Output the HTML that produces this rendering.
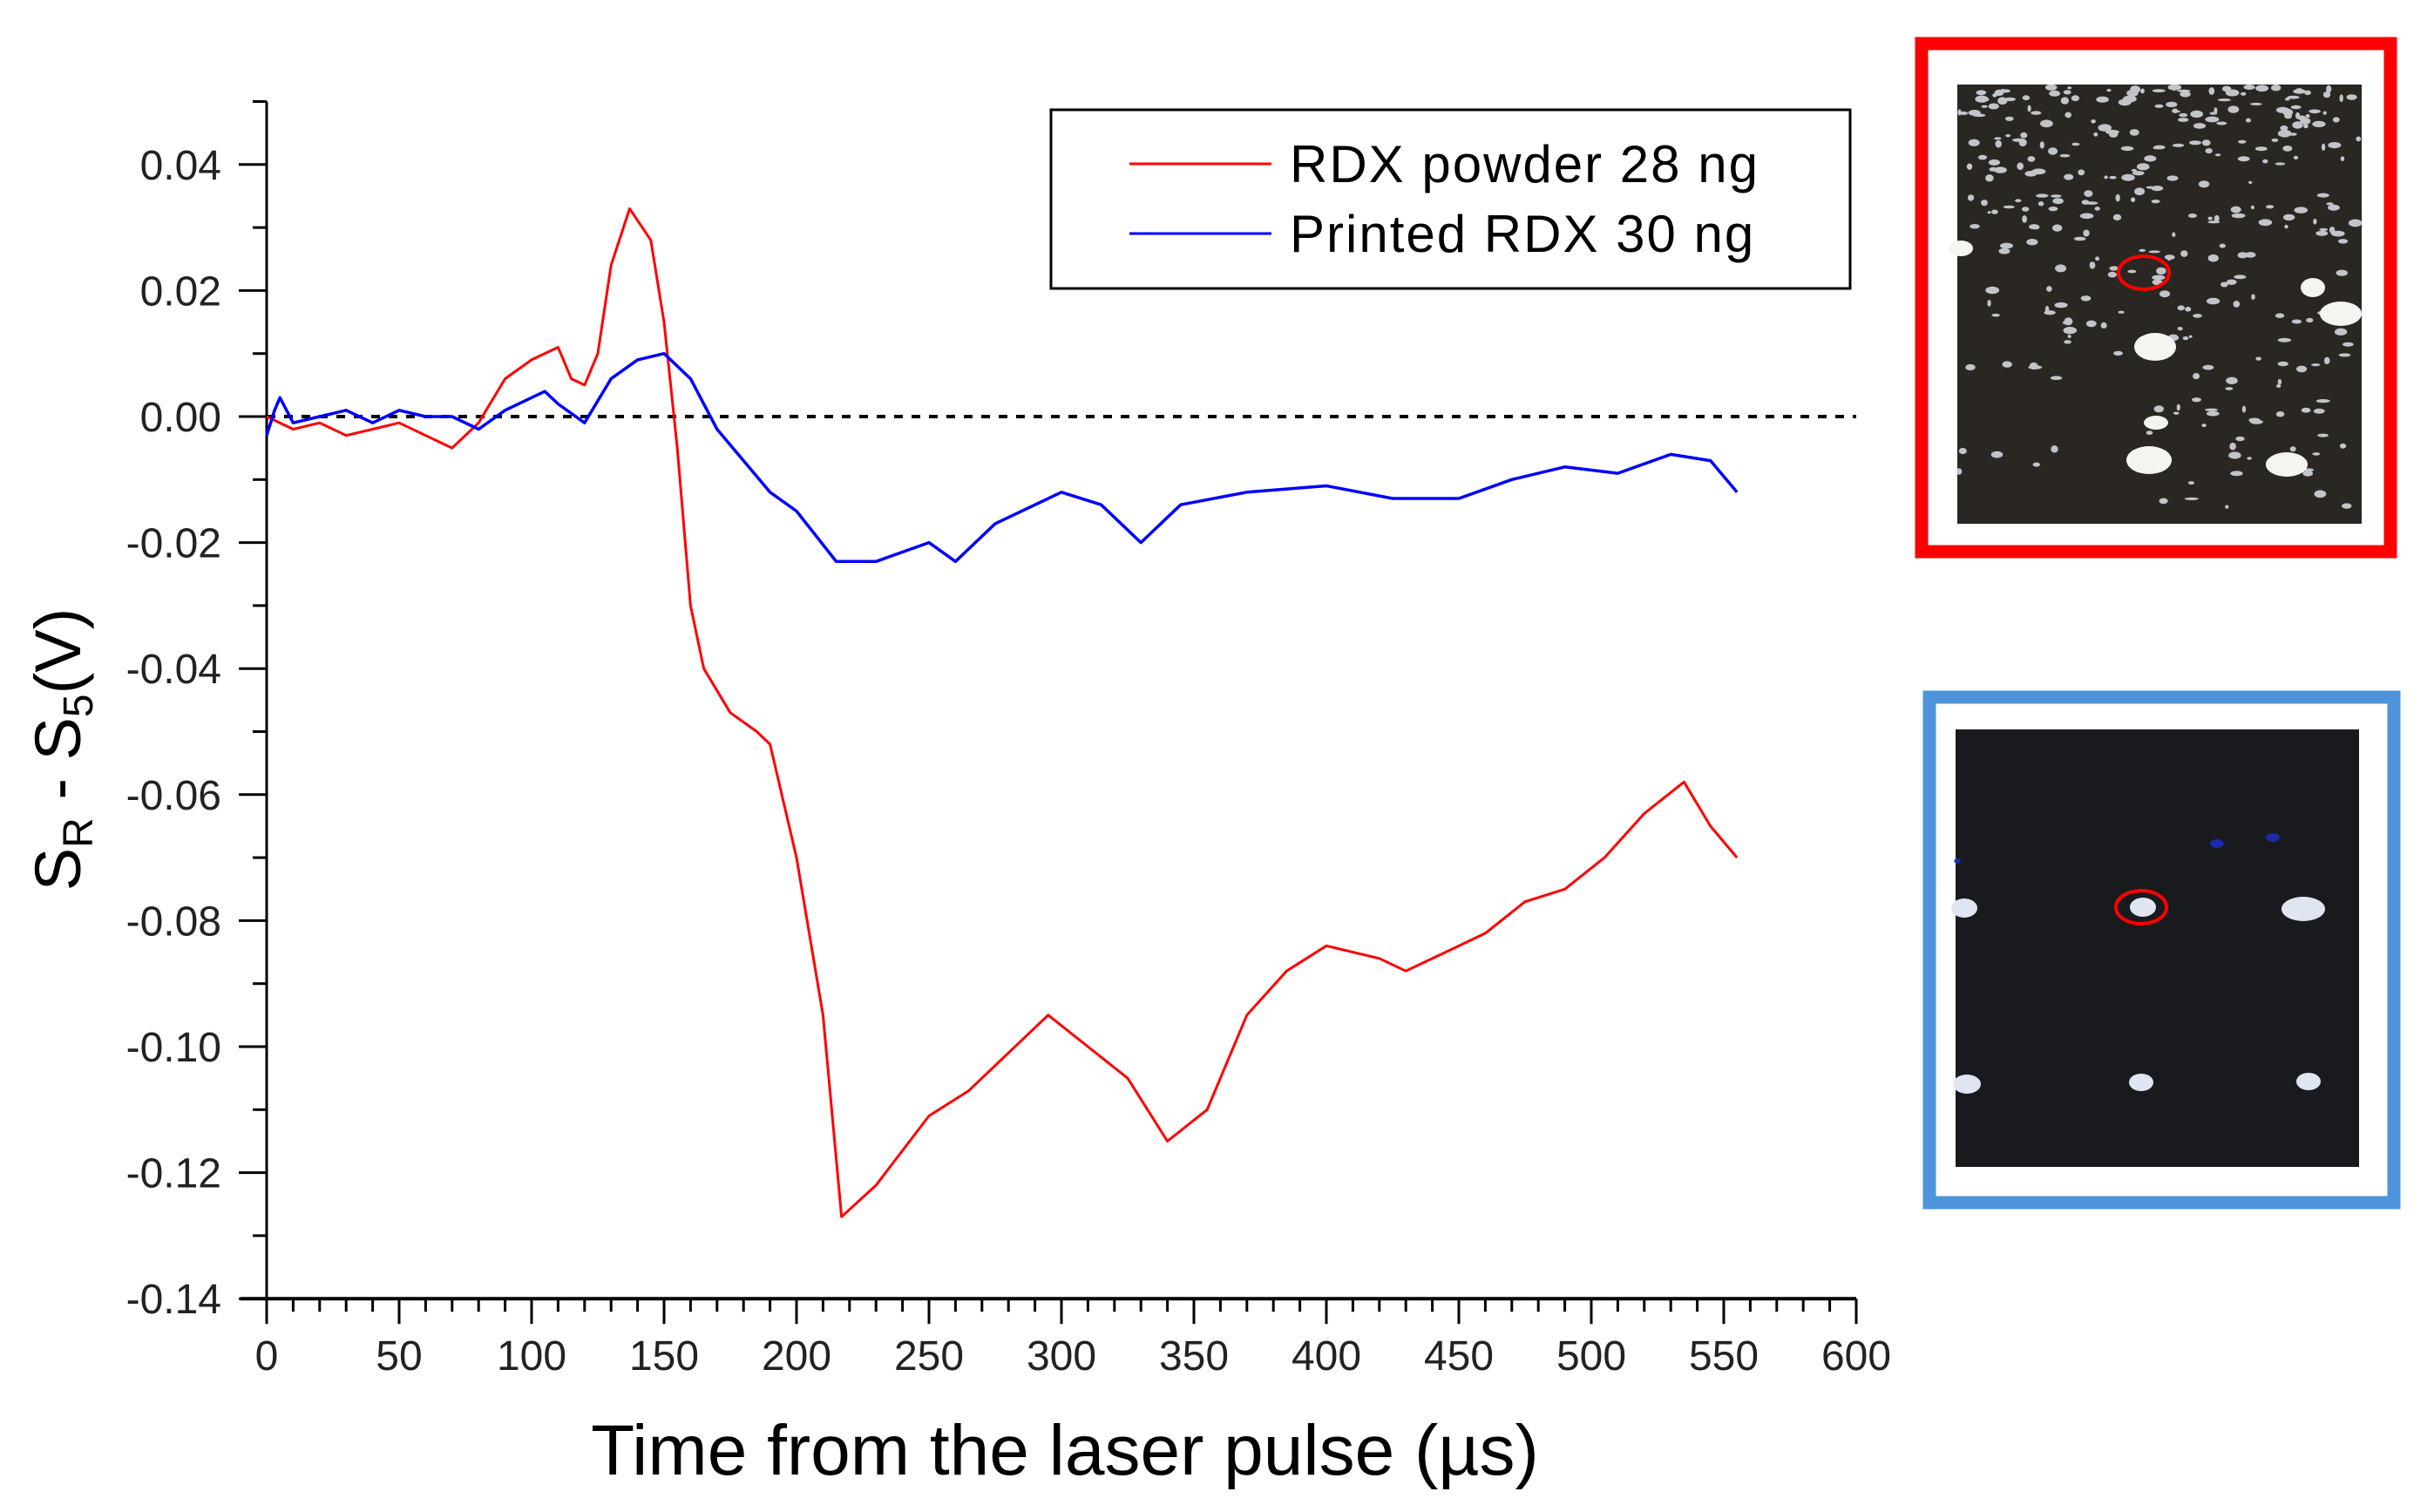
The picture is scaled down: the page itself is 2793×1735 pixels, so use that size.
<!DOCTYPE html>
<html><head><meta charset="utf-8"><style>
html,body{margin:0;padding:0;background:#fff;}
svg{display:block;font-family:"Liberation Sans",sans-serif;}
</style></head><body>
<svg id="chart" width="2793" height="1735" viewBox="0 0 2793 1735" xmlns="http://www.w3.org/2000/svg">
<g id="axes"></g>
<g id="series"></g>
<text x="1222" y="1692" font-size="82" text-anchor="middle" fill="#000">Time from the laser pulse (µs)</text>
<text transform="translate(92,860) rotate(-90)" font-size="74" text-anchor="middle" fill="#000">S<tspan font-size="48" dy="14">R</tspan><tspan dy="-14"> - S</tspan><tspan font-size="48" dy="14">5</tspan><tspan dy="-14">(V)</tspan></text>
<g>
<rect x="1206" y="126" width="917" height="205" fill="#fff" stroke="#000" stroke-width="3"/>
<line x1="1296" y1="188" x2="1459" y2="188" stroke="#ff0000" stroke-width="3"/>
<text x="1480" y="209" font-size="60" letter-spacing="2">RDX powder 28 ng</text>
<line x1="1296" y1="268" x2="1459" y2="268" stroke="#0000ff" stroke-width="3"/>
<text x="1480" y="289" font-size="60" letter-spacing="2">Printed RDX 30 ng</text>
</g>
<g transform="translate(-12,0)">
<rect x="2217" y="50" width="538" height="583" fill="#fff" stroke="#ff0000" stroke-width="15"/>
<rect x="2258" y="97" width="464" height="504" fill="#2a2723"/>
<g id="speckles" fill="#e8ecf4" opacity="0.8"></g>
<g fill="#f4f4f0">
<ellipse cx="2262" cy="285" rx="14" ry="9"/><ellipse cx="2485" cy="398" rx="24" ry="16"/><ellipse cx="2478" cy="528" rx="26" ry="16"/>
<ellipse cx="2636" cy="533" rx="24" ry="14"/><ellipse cx="2666" cy="330" rx="14" ry="11"/><ellipse cx="2698" cy="360" rx="24" ry="14"/><ellipse cx="2486" cy="485" rx="14" ry="8"/>
</g>
<ellipse cx="2472" cy="313" rx="29" ry="19" fill="none" stroke="#ff0000" stroke-width="4"/>
</g>
<g transform="translate(-14,-5)">
<rect x="2228" y="805" width="533" height="580" fill="#fff" stroke="#4d94db" stroke-width="15"/>
<rect x="2258" y="842" width="463" height="502" fill="#181a1d"/>
<g fill="#1d2fd0" opacity="0.8"><ellipse cx="2558" cy="973" rx="8" ry="5"/><ellipse cx="2622" cy="966" rx="8" ry="5"/><ellipse cx="2260" cy="993" rx="4" ry="3"/></g>
<g fill="#dfe6f2">
<ellipse cx="2268" cy="1047" rx="15" ry="11"/><ellipse cx="2473" cy="1046" rx="15" ry="11"/><ellipse cx="2657" cy="1048" rx="25" ry="14"/>
<ellipse cx="2271" cy="1249" rx="16" ry="11"/><ellipse cx="2471" cy="1247" rx="14" ry="10"/><ellipse cx="2663" cy="1246" rx="14" ry="10"/>
</g>
<ellipse cx="2471" cy="1046" rx="29" ry="19" fill="none" stroke="#ff0000" stroke-width="4"/>
</g>
</svg>
<script>
const xTicks=[0,50,100,150,200,250,300,350,400,450,500,550,600];
const yTicks=[0.04,0.02,0.00,-0.02,-0.04,-0.06,-0.08,-0.10,-0.12,-0.14];
const yTickLabels=["0.04","0.02","0.00","-0.02","-0.04","-0.06","-0.08","-0.10","-0.12","-0.14"];
const redX=[0,10,20,30,40,50,60,70,80,90,100,110,115,120,125,130,137,145,150,155,160,165,175,185,190,200,210,217,230,250,265,280,295,310,325,340,355,370,385,400,420,430,445,460,475,490,505,520,535,545,555];
const redY=[0,-0.002,-0.001,-0.003,-0.002,-0.001,-0.003,-0.005,-0.001,0.006,0.009,0.011,0.006,0.005,0.010,0.024,0.033,0.028,0.015,-0.005,-0.030,-0.040,-0.047,-0.050,-0.052,-0.070,-0.095,-0.127,-0.122,-0.111,-0.107,-0.101,-0.095,-0.100,-0.105,-0.115,-0.110,-0.095,-0.088,-0.084,-0.086,-0.088,-0.085,-0.082,-0.077,-0.075,-0.070,-0.063,-0.058,-0.065,-0.070];
const blueX=[0,3,5,10,20,30,40,50,60,70,80,90,100,105,110,120,130,140,150,160,170,180,190,200,215,230,250,260,275,300,315,330,345,370,400,425,450,470,490,510,530,545,555];
const blueY=[-0.003,0.001,0.003,-0.001,0.000,0.001,-0.001,0.001,0.000,0.000,-0.002,0.001,0.003,0.004,0.002,-0.001,0.006,0.009,0.010,0.006,-0.002,-0.007,-0.012,-0.015,-0.023,-0.023,-0.020,-0.023,-0.017,-0.012,-0.014,-0.020,-0.014,-0.012,-0.011,-0.013,-0.013,-0.010,-0.008,-0.009,-0.006,-0.007,-0.012];
const NS="http://www.w3.org/2000/svg";
const X0=306,X1=2130,Y0=478,YPER=7230;
function sx(v){return X0+(v/600)*(X1-X0);}
function sy(v){return Y0-v*YPER;}
function mk(tag,attrs,parent){const e=document.createElementNS(NS,tag);for(const k in attrs)e.setAttribute(k,attrs[k]);parent.appendChild(e);return e;}
// decorative speckles (deterministic)
const sp=document.getElementById('speckles');
let seed=7;function rnd(){seed=(seed*16807)%2147483647;return seed/2147483647;}
for(let i=0;i<420;i++){const x=2260+rnd()*460;const yr=rnd();const y=100+Math.pow(yr,1.4)*495;const dens=1-(y-100)/600;if(rnd()>dens+0.15)continue;mk('ellipse',{cx:x.toFixed(1),cy:y.toFixed(1),rx:(2+rnd()*6).toFixed(1),ry:(1.5+rnd()*3).toFixed(1)},sp);}
const axes=document.getElementById('axes');
const yB=sy(-0.14);
let l=mk('line',{x1:X0,y1:sy(0.05),x2:X0,y2:yB,stroke:'#000','stroke-width':3},axes);


l=mk('line',{x1:X0-30,y1:yB,x2:X1,y2:yB,stroke:'#000','stroke-width':4},axes);


for(let v=0;v<=600;v+=10){const maj=v%50===0;mk('line',{x1:sx(v),y1:yB,x2:sx(v),y2:yB+(maj?29:15),stroke:'#000','stroke-width':3},axes);}
xTicks.forEach(v=>{const t=mk('text',{x:sx(v),y:yB+82,'font-size':48,'text-anchor':'middle',fill:'#222'},axes);t.textContent=String(v);

});
for(let i=-14;i<=5;i++){const v=i/100;const maj=i%2===0&&i<=4;mk('line',{x1:X0-(maj?32:16),y1:sy(v),x2:X0,y2:sy(v),stroke:'#000','stroke-width':3},axes);}
yTicks.forEach((v,i)=>{const t=mk('text',{x:X0-52,y:sy(v)+17,'font-size':48,'text-anchor':'end',fill:'#222'},axes);t.textContent=yTickLabels[i];

});
l=mk('line',{x1:X0,y1:sy(0),x2:sx(600),y2:sy(0),stroke:'#000','stroke-width':4,'stroke-dasharray':'10 10'},axes);


const ser=document.getElementById('series');
function path(xs,ys){return xs.map((x,i)=>(i?'L':'M')+sx(x).toFixed(1)+' '+sy(ys[i]).toFixed(1)).join(' ');}
let p=mk('path',{d:path(redX,redY),fill:'none',stroke:'#ff0000','stroke-width':3,'stroke-linejoin':'round'},ser);


p=mk('path',{d:path(blueX,blueY),fill:'none',stroke:'#0000ff','stroke-width':3.5,'stroke-linejoin':'round'},ser);


</script>
</body></html>
